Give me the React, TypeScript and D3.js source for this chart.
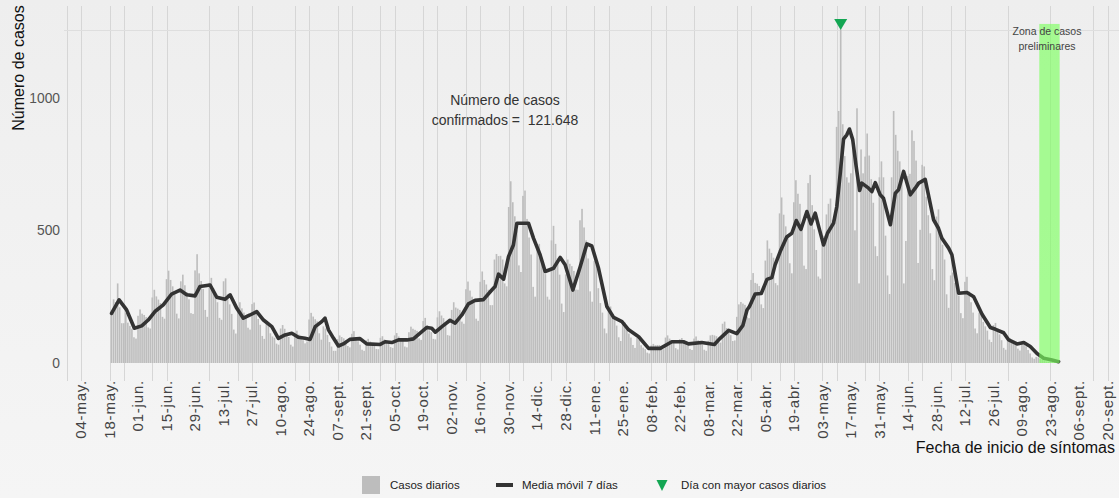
import React from 'react';
import * as d3 from 'd3';

// ---------- data ----------
const startDate = '2020-05-19';
const dailyCases: number[] = [
  190, 240, 230, 300, 210, 150, 150,
  189, 152, 140, 129, 97, 92,
  178, 202, 186, 181, 173, 134, 130,
  247, 276, 251, 239, 226, 174, 167,
  316, 348, 313, 289, 258, 186, 168,
  308, 333, 293, 267, 240, 188, 185,
  349, 410, 338, 309, 279, 200, 174,
  302, 321, 282, 255, 229, 170, 163,
  308, 319, 259, 221, 185, 126, 111,
  206, 229, 206, 190, 177, 133, 126,
  222, 228, 190, 166, 144, 102, 91,
  154, 146, 112, 100, 95, 73, 69,
  130, 143, 129, 113, 98, 69, 62,
  114, 122, 107, 97, 86, 74, 81,
  164, 189, 175, 165, 157, 112, 88,
  138, 130, 106, 79, 62, 46, 46,
  90, 104, 98, 93, 86, 64, 59,
  110, 120, 98, 82, 69, 50, 46,
  85, 91, 81, 74, 68, 53, 52,
  95, 101, 89, 84, 79, 60, 57,
  104, 113, 100, 91, 84, 62, 59,
  116, 137, 129, 125, 121, 93, 87,
  158, 170, 143, 123, 116, 91, 89,
  172, 195, 179, 169, 148, 105, 103,
  200, 229, 209, 205, 200, 156, 148,
  278, 307, 273, 250, 226, 167, 159,
  306, 345, 313, 296, 276, 218, 218,
  390, 411, 403, 404, 390, 300, 289,
  588, 685, 606, 553, 500, 368, 343,
  630, 650, 543, 473, 409, 287, 250,
  432, 449, 399, 368, 335, 250, 239,
  462, 517, 449, 394, 333, 224, 192,
  334, 390, 374, 365, 347, 277, 276,
  538, 581, 511, 462, 394, 270, 231,
  384, 371, 282, 226, 190, 130, 112,
  202, 213, 184, 165, 141, 97, 83,
  149, 153, 129, 111, 96, 68, 57,
  94, 87, 67, 58, 52, 39, 36,
  66, 72, 67, 68, 68, 55, 52,
  96, 104, 92, 84, 76, 56, 51,
  90, 94, 83, 77, 70, 53, 49,
  92, 100, 86, 77, 68, 50, 46,
  84, 104, 106, 104, 101, 79, 77,
  148, 156, 132, 118, 105, 83, 85,
  174, 221, 230, 224, 219, 174, 169,
  313, 339, 302, 299, 290, 221, 207,
  386, 462, 431, 415, 397, 301, 293,
  564, 624, 559, 515, 485, 376, 338,
  606, 689, 638, 600, 518, 367, 354,
  678, 709, 595, 504, 426, 326, 318,
  450, 480, 560, 600, 620, 540, 530,
  890, 950, 1257, 900, 780, 700, 680,
  715, 810, 500, 960, 300, 805, 715,
  778, 865, 782, 693, 604, 440, 403,
  700, 760, 700, 480, 330, 260, 700,
  950, 860, 800, 760, 700, 300, 460,
  705, 713, 877, 837, 763, 377, 502,
  747, 741, 627, 557, 489, 354, 312,
  552, 579, 500, 446, 390, 259, 208,
  330, 341, 302, 278, 254, 188, 169,
  306, 325, 270, 229, 190, 130, 112,
  190, 189, 155, 138, 122, 88, 79,
  143, 151, 130, 108, 86, 57, 50,
  89, 94, 84, 79, 72, 54, 47,
  80, 81, 63, 49, 36, 21, 16,
  23, 21, 15, 13, 10, 6, 5,
  7, 6, 4, 3, 2,
];

// 7-day moving average (days after 04-may-2020, value)
const maDays = [
  15, 18.7, 22.4, 26.2, 29.8, 33, 36.3, 40.4, 44.5, 48.6, 51.9, 56, 58.4, 63.4, 66.6, 70.7,
  73.2, 76.5, 79.7, 83, 86.3, 89.6, 93.7, 96.9, 100.2, 103.5, 106.7, 110, 112.5, 115, 118.2,
  119.8, 121.5, 124, 126.4, 128.8, 132, 137, 140.3, 146.9, 149.3, 152.6, 155.9, 160, 163.2,
  166.5, 169.8, 172.2, 174, 177.2, 181.2, 183.7, 187, 190.2, 193.5, 197.6, 201.7, 203.3, 205,
  207.5, 209.9, 212.3, 214, 219.7, 222.2, 225.4, 227.9, 232, 235.3, 237.7, 241.5, 245.1,
  248.4, 250.8, 254.1, 258.2, 261.5, 265.6, 268.9, 273.8, 278.7, 284.4, 290.1, 295.8, 298.3,
  304.8, 311, 313.8, 318, 322, 325, 327, 328.2, 331, 334, 336.8, 339.2, 340.8, 343.3, 346.5,
  349, 351.2, 353.5, 356.4, 358.4, 360.5, 362.1, 364.6, 366.5, 369.5, 371.1, 372.8, 374.4,
  376, 377.3, 378.9, 380.6, 382.3, 383.4, 386.7, 388.3, 390, 392.4, 394, 397.4, 399.8, 401.4,
  403.9, 407.2, 409.6, 411.3, 414.5, 418.6, 421, 422.7, 426, 427.6, 430.9, 435, 438.3, 442.4,
  446.5, 449, 453, 455.5, 459.6, 462.9, 466.1, 469.4, 472.7, 476.8, 480,
];
const maValues = [
  187, 238, 200, 131, 140, 162, 194, 219, 260, 275, 257, 253, 288, 294, 248, 240,
  257, 206, 169, 181, 194, 162, 137, 93, 106, 112, 97, 93, 89, 137, 156,
  169, 125, 93, 64, 72, 89, 92, 72, 70, 80, 77, 87, 87, 91,
  113, 134, 131, 116, 137, 161, 150, 181, 223, 236, 239, 275, 288, 335,
  316, 401, 445, 527, 527, 470, 408, 345, 357, 398, 370, 275, 363,
  449, 441, 357, 213, 172, 156, 125, 99, 55, 55, 80, 80, 72,
  77, 70, 93, 123, 111, 142, 200, 213, 260, 262, 315, 322, 370, 420, 475,
  489, 537, 504, 571, 524, 565, 517, 445, 489, 527, 590, 716, 844,
  860, 882, 842, 741, 650, 678, 659, 646, 680, 634, 621, 521, 640, 653,
  722, 634, 659, 678, 692, 540, 508, 470, 433, 408, 263, 266, 250, 184,
  134, 127, 114, 87, 72, 77, 62, 36, 18, 11, 5,
];

const tickStart = '2020-05-04';
const tickStepDays = 14;
const tickLabels = [
  '04-may.', '18-may.', '01-jun.', '15-jun.', '29-jun.', '13-jul.', '27-jul.', '10-ago.',
  '24-ago.', '07-sept.', '21-sept.', '05-oct.', '19-oct.', '02-nov.', '16-nov.', '30-nov.',
  '14-dic.', '28-dic.', '11-ene.', '25-ene.', '08-feb.', '22-feb.', '08-mar.', '22-mar.',
  '05-abr.', '19-abr.', '03-may.', '17-may.', '31-may.', '14-jun.', '28-jun.', '12-jul.',
  '26-jul.', '09-ago.', '23-ago.', '06-sept.', '20-sept.',
];
// weekly grid lines visible in the reference (weeks after 04-may-2020)
const gridWeeks = [-1, 0, 2, 3, 5, 6, 9, 11, 12, 15, 16, 18, 19, 21, 22, 24, 25, 27, 28, 30, 31,
  33, 34, 36, 37, 40, 41, 43, 46, 47, 49, 50, 52, 53, 55, 56, 58, 59, 61, 62, 65, 68, 71, 72];
const yTicks = [0, 500, 1000];
const zoneStart = '2021-08-18';
const zoneEnd = '2021-08-27';
const zoneTopValue = 1278;
const totalText = '121.648';

const FONT = '"Liberation Sans", Arial, Helvetica, sans-serif';
const DAY_MS = 86400000;

export default function App() {
  const W = 1119;
  const H = 498;
  const parse = d3.utcParse('%Y-%m-%d');
  const t0 = parse(tickStart) as Date;
  const tEnd = d3.utcDay.offset(t0, tickStepDays * (tickLabels.length - 1));
  const x = d3.scaleUtc().domain([t0, tEnd]).range([81, 1107.5]);
  const y = d3.scaleLinear().domain([0, 1000]).range([363, 97.7]);

  const s0 = parse(startDate) as Date;
  const data = dailyCases.map((v, i) => ({ date: d3.utcDay.offset(s0, i), v }));
  const ma = maDays.map((d, i) => ({ date: new Date(t0.getTime() + d * DAY_MS), v: maValues[i] }));
  const dayW = x(d3.utcDay.offset(t0, 1)) - x(t0);
  const bw = dayW * 0.8;
  const line = d3
    .line<{ date: Date; v: number }>()
    .x((d) => x(d.date))
    .y((d) => y(d.v))
    .curve(d3.curveLinear);

  const maxI = d3.maxIndex(dailyCases);
  const maxD = data[maxI];
  const mx = x(maxD.date);
  const my = y(maxD.v);

  const zx0 = x(parse(zoneStart) as Date) - dayW / 2;
  const zx1 = x(parse(zoneEnd) as Date) + dayW / 2;

  const tickDates = tickLabels.map((_, i) => d3.utcDay.offset(t0, tickStepDays * i));

  return (
    <svg
      width={W}
      height={H}
      viewBox={`0 0 ${W} ${H}`}
      style={{ position: 'absolute', left: 0, top: 0, display: 'block' }}
      fontFamily={FONT}
    >
      <defs>
        <linearGradient id="bg" x1="0" y1="0" x2="0" y2="1">
          <stop offset="0" stopColor="#eeeeee" />
          <stop offset="1" stopColor="#f5f5f5" />
        </linearGradient>
      </defs>
      <rect x={0} y={0} width={W} height={H} fill="url(#bg)" />

      {/* vertical grid */}
      {gridWeeks.map((w) => {
        const gx = Math.round(x(d3.utcDay.offset(t0, w * 7))) + 0.5;
        return <line key={w} x1={gx} x2={gx} y1={6} y2={381} stroke="#d6d6d6" strokeWidth={1} />;
      })}
      {/* max reference line */}
      <line x1={64} x2={W} y1={Math.round(my) + 0.5} y2={Math.round(my) + 0.5} stroke="#dedede" strokeWidth={1} />

      {/* bars */}
      {data.map((d, i) => (
        <rect
          key={i}
          x={x(d.date) - bw / 2}
          y={y(d.v)}
          width={bw}
          height={y(0) - y(d.v)}
          fill="#bdbdbd"
        />
      ))}

      {/* moving average */}
      <path d={line(ma) || ''} fill="none" stroke="#333333" strokeWidth={3.6} strokeLinejoin="round" strokeLinecap="round" />

      {/* preliminary zone */}
      <rect x={zx0} y={y(zoneTopValue)} width={zx1 - zx0} height={y(0) - y(zoneTopValue)} fill="#7dff5f" opacity={0.65} />
      <text x={1047} y={35} textAnchor="middle" fontSize={10.5} fill="#444">Zona de casos</text>
      <text x={1047} y={50} textAnchor="middle" fontSize={10.5} fill="#444">preliminares</text>

      {/* max marker */}
      <path d={`M${mx - 6.5},${my - 10.5} L${mx + 6.5},${my - 10.5} L${mx},${my + 0.5} Z`} fill="#13a653" />

      {/* y axis */}
      {yTicks.map((t) => (
        <text key={t} x={60} y={y(t)} dy="0.35em" textAnchor="end" fontSize={13.8} fill="#555">
          {t}
        </text>
      ))}
      <text transform="translate(24,68) rotate(-90)" textAnchor="middle" fontSize={16} fill="#111">
        Número de casos
      </text>

      {/* x axis */}
      {tickDates.map((d, i) => (
        <text
          key={i}
          transform={`translate(${x(d)},380) rotate(-90)`}
          dy="0.35em"
          textAnchor="end"
          fontSize={15}
          letterSpacing={0.8}
          fill="#444"
        >
          {tickLabels[i]}
        </text>
      ))}
      <text x={1115} y={453} textAnchor="end" fontSize={16} fill="#111">
        Fecha de inicio de síntomas
      </text>

      {/* annotation */}
      <text x={505} y={105} textAnchor="middle" fontSize={14} fill="#333">Número de casos</text>
      <text x={505} y={125} textAnchor="middle" fontSize={14} fill="#333" style={{ whiteSpace: 'pre' }}>
        {`confirmados =  ${totalText}`}
      </text>

      {/* legend */}
      <rect x={362} y={476} width={18} height={18} fill="#bdbdbd" />
      <text x={390} y={489} fontSize={11.5} fill="#222">Casos diarios</text>
      <line x1={496} x2={513} y1={485} y2={485} stroke="#333" strokeWidth={4} />
      <text x={522} y={489} fontSize={11.5} fill="#222">Media móvil 7 días</text>
      <path d="M656.5,480 L667.5,480 L662,491 Z" fill="#13a653" />
      <text x={681} y={489} fontSize={11.5} fill="#222">Día con mayor casos diarios</text>
    </svg>
  );
}
